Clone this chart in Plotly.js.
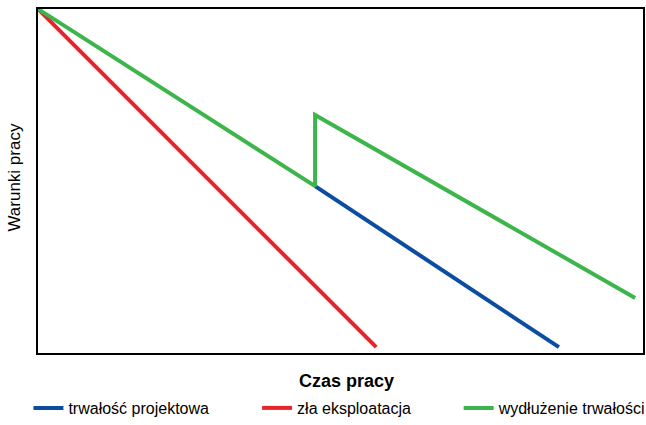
<!DOCTYPE html>
<html><head><meta charset="utf-8">
<script src="https://cdn.plot.ly/plotly-3.0.1.min.js"></script>
<style>html,body{margin:0;padding:0;background:#fff}#chart{width:646px;height:425px}</style>
</head><body><div id="chart"></div>
<script>
// Series (normalized units: x = czas pracy, y = warunki pracy)
const seriesNames = ["trwałość projektowa", "zła eksploatacja", "wydłużenie trwałości"];
const designX = [0.458, 0.861];
const designY = [0.485, 0.017];
const badX = [0, 0.559];
const badY = [1, 0.017];
const extX = [0, 0.458, 0.458, 0.987];
const extY = [1, 0.485, 0.692, 0.160];
const xTitle = "Czas pracy";
const yTitle = "Warunki pracy";

const font = "Liberation Sans, Arial, Helvetica, sans-serif";
const traces = [
  {x: designX, y: designY, name: seriesNames[0], mode: "lines", line: {color: "#0c4da2", width: 4}, legend: "legend"},
  {x: badX, y: badY, name: seriesNames[1], mode: "lines", line: {color: "#e8232a", width: 4}, legend: "legend2"},
  {x: extX, y: extY, name: seriesNames[2], mode: "lines", line: {color: "#3cb54a", width: 4}, legend: "legend3"}
];
const legBase = {orientation: "h", xref: "container", yref: "container", yanchor: "middle", y: 0.04, xanchor: "left", bgcolor: "rgba(0,0,0,0)", font: {family: font, size: 16, color: "#000"}};
const layout = {
  width: 646, height: 425,
  margin: {l: 38, r: 3, t: 9, b: 72, autoexpand: false},
  paper_bgcolor: "#fff", plot_bgcolor: "#fff",
  showlegend: true,
  xaxis: {range: [0, 1], showgrid: false, zeroline: false, showticklabels: false, ticks: "", showline: true, mirror: true, linecolor: "#000", linewidth: 2, fixedrange: true},
  yaxis: {range: [0, 1], showgrid: false, zeroline: false, showticklabels: false, ticks: "", showline: true, mirror: true, linecolor: "#000", linewidth: 2, fixedrange: true},
  legend: Object.assign({}, legBase, {x: 0.044}),
  legend2: Object.assign({}, legBase, {x: 0.398}),
  legend3: Object.assign({}, legBase, {x: 0.71}),
  annotations: [
    {text: "<b>" + xTitle + "</b>", xref: "paper", yref: "paper", x: 0.51, y: -0.08, xanchor: "center", yanchor: "middle", showarrow: false, font: {family: font, size: 18, color: "#000"}},
    {text: yTitle, xref: "paper", yref: "paper", x: -0.038, y: 0.51, xanchor: "center", yanchor: "middle", textangle: -90, showarrow: false, font: {family: font, size: 17, color: "#000"}}
  ]
};
Plotly.newPlot("chart", traces, layout, {displayModeBar: false, staticPlot: true});
</script></body></html>
